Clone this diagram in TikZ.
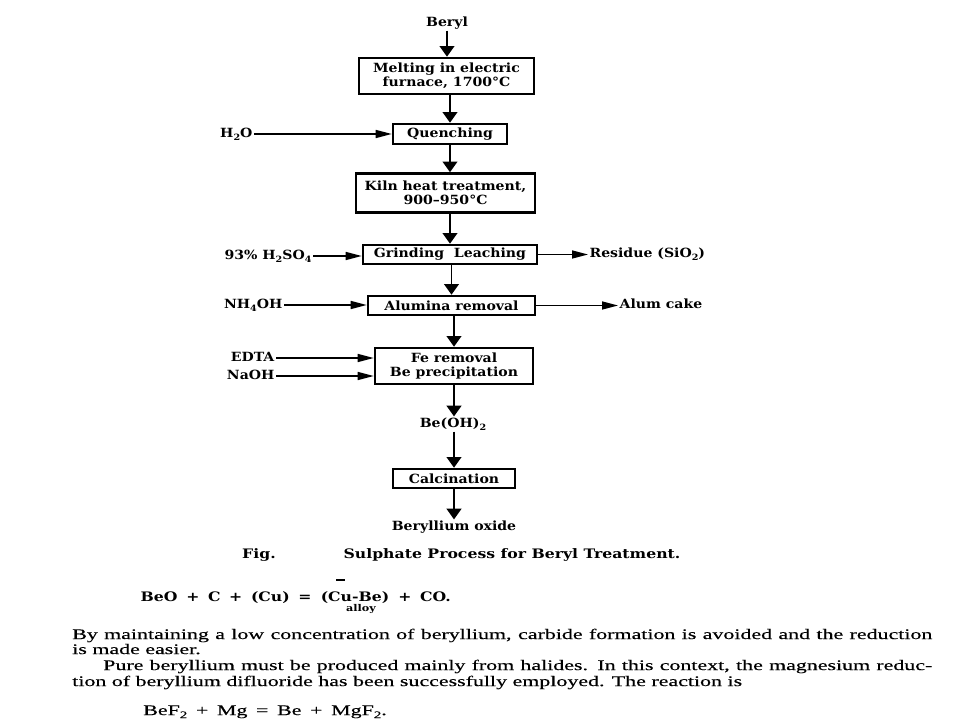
\documentclass[tikz,border=0pt]{standalone}
\usepackage{fontspec}
\setmainfont{Liberation Serif}
\newfontfamily\dfont[FakeStretch=1.11]{DejaVu Serif}
\newfontfamily\cfont[FakeStretch=1.2]{DejaVu Serif}
\newfontfamily\pfont[FakeStretch=1.495,FakeBold=0.4]{Liberation Serif}
\usetikzlibrary{arrows.meta}
\newcommand\sbs[1]{\raisebox{-0.45ex}{\scalebox{0.68}{#1}}}
\newcommand\opsp{\kern6.5pt}
\newcommand\opspb{\kern6.5pt}
\begin{document}
\begin{tikzpicture}[x=0.75pt,y=-0.75pt,
  box/.style={draw, line width=1.9pt, inner sep=0pt, align=center,
    font=\dfont\bfseries\fontsize{9.5}{10.5}\selectfont},
  lab/.style={inner sep=1pt, text height=7pt, text depth=2pt,
    font=\dfont\bfseries\fontsize{9.5}{10.5}\selectfont},
  caplab/.style={lab, font=\cfont\bfseries\fontsize{9.8}{10.5}\selectfont},
  varr/.style={line width=1.4pt, -{Triangle[length=8pt,width=11pt]}},
  harr/.style={line width=1.1pt, -{Triangle[length=12pt,width=6pt]}},
  para/.style={inner sep=0pt, anchor=mid west, font=\pfont\fontsize{11}{12}\selectfont},
]
\useasboundingbox (0,0) rectangle (960,720);
\fill[white] (0,0) rectangle (960,720);

% main column
\node[lab] (beryl) at (447,23) {Beryl};
\node[box, minimum width=131.25pt, minimum height=27pt] (melt) at (446.5,76) {Melting in electric\\furnace, 1700°C};
\node[box, minimum width=85.5pt, minimum height=15pt] (quench) at (450,134) {Quenching};
\node[box, minimum width=134.25pt, minimum height=29.25pt] (kiln) at (445.5,193) {Kiln heat treatment,\\900–950°C};
\node[box, minimum width=130.5pt, minimum height=14.25pt] (grind) at (450,254.5) {Grinding\ \ Leaching};
\node[box, minimum width=125.25pt, minimum height=14.25pt] (alum) at (451.5,305.5) {Alumina removal};
\node[box, minimum width=118.5pt, minimum height=27pt] (fe) at (454,366) {Fe removal\\Be precipitation};
\node[lab] (beoh) at (453,424) {Be(OH)\sbs{2}};
\node[box, minimum width=91.5pt, minimum height=14.25pt] (calc) at (454,478.5) {Calcination};
\node[lab] (oxide) at (454,527) {Beryllium oxide};

% side inputs and outputs
\node[lab, anchor=east] (h2o) at (254,134) {H\sbs{2}O};
\node[lab, anchor=east] (acid) at (313,256) {93\% H\sbs{2}SO\sbs{4}};
\node[lab, anchor=east] (nh4oh) at (284,305) {NH\sbs{4}OH};
\node[lab, anchor=east] (edta) at (276,358) {EDTA};
\node[lab, anchor=east] (naoh) at (276,376) {NaOH};
\node[lab, anchor=west] (resid) at (588,254.5) {Residue (SiO\sbs{2})};
\node[lab, anchor=west] (cake) at (618,305.5) {Alum cake};

% vertical arrows
\draw[varr] (beryl.south) -- (beryl.south |- melt.north);
\draw[varr] (melt.south -| quench.north) -- (quench.north);
\draw[varr] (quench.south) -- (quench.south |- kiln.north);
\draw[varr] (kiln.south -| grind.north) -- (grind.north);
\draw[varr] (grind.south -| alum.north) -- (alum.north);
\draw[varr] (alum.south -| fe.north) -- (fe.north);
\draw[varr] (fe.south) -- (fe.south |- beoh.north);
\draw[varr] (beoh.south -| calc.north) -- (calc.north);
\draw[varr] (calc.south) -- (calc.south |- oxide.north);

% horizontal arrows
\draw[harr] (h2o.east) -- (h2o.east -| quench.west);
\draw[harr] (acid.east) -- (acid.east -| grind.west);
\draw[harr] (nh4oh.east) -- (nh4oh.east -| alum.west);
\draw[harr] (edta.east) -- (edta.east -| fe.west);
\draw[harr] (naoh.east) -- (naoh.east -| fe.west);
\draw[harr] (grind.east) -- (grind.east -| resid.west);
\draw[harr] (alum.east) -- (alum.east -| cake.west);

% caption
\node[caplab] (fig) at (259,555) {Fig.};
\node[caplab, anchor=west] (cap) at (342,555) {Sulphate Process for Beryl Treatment.};

% equation 1
\node[caplab, inner sep=0pt] (eqb) at (355,598) {(Cu-Be)};
\node[caplab, inner sep=0pt, anchor=east] (eqa) at (eqb.west) {BeO\opsp+\opsp C\opsp+\opsp(Cu)\opsp=\opsp};
\node[caplab, inner sep=0pt, anchor=west] (eqc) at (eqb.east) {\opsp+\opsp CO.};
\node[inner sep=0pt, font=\cfont\bfseries\fontsize{7}{7}\selectfont] (alloy) at (361,609) {alloy};
\draw[line width=0.9pt] (336,580) -- (345,580);

% paragraph
\node[para] (p1) at (72,636) {\makebox[645pt][s]{By maintaining a low concentration of beryllium, carbide formation is avoided and the reduction}};
\node[para] (p2) at (72,651) {is made easier.};
\node[para] (p3) at (103,667) {\makebox[621.75pt][s]{Pure beryllium must be produced mainly from halides. In this context, the magnesium reduc-}};
\node[para] (p4) at (72,683) {tion of beryllium difluoride has been successfully employed. The reaction is};
\node[para] (p5) at (143,712) {BeF\sbs{2}\opspb+\opspb Mg\opspb=\opspb Be\opspb+\opspb MgF\sbs{2}.};
\end{tikzpicture}
\end{document}
